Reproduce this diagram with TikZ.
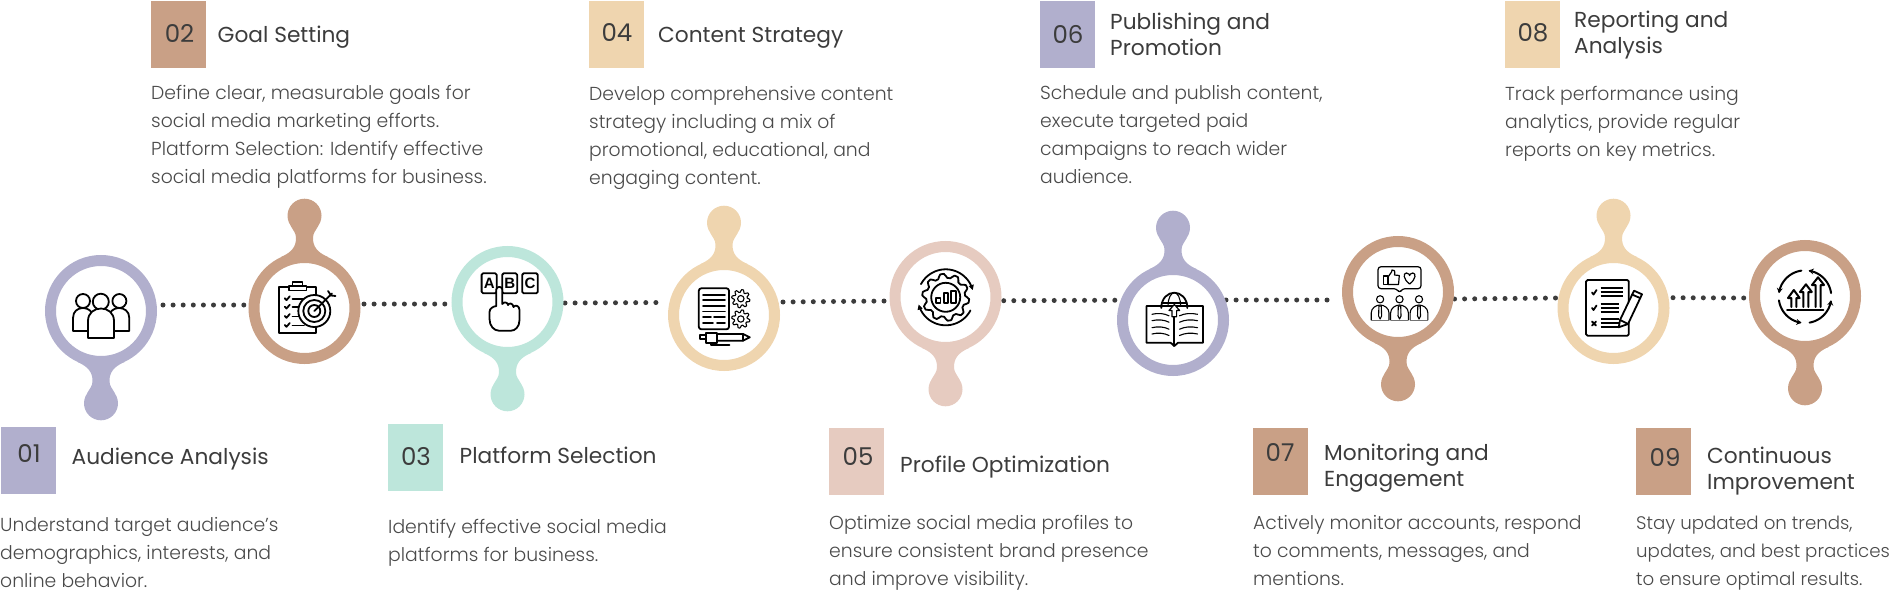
\documentclass[tikz,border=0pt]{standalone}
\usepackage{fontspec}
\setmainfont{Poppins}[UprightFont=* Light]
\newfontfamily\titlef{Poppins}
\newfontfamily\iconf{Liberation Sans}
\usetikzlibrary{arrows.meta,backgrounds}
\definecolor{cpurple}{HTML}{B1AFCD}
\definecolor{ctan}{HTML}{C9A086}
\definecolor{cmint}{HTML}{BDE6DB}
\definecolor{ccream}{HTML}{EFD5AF}
\definecolor{cpink}{HTML}{E6CBC0}
\definecolor{ctext}{HTML}{4A4A4A}
\definecolor{ctitle}{HTML}{3C3C3C}
\newcommand{\fl}{\rule{0pt}{20pt}}
\newcommand{\arcp}[5]{plot[domain=#4:#5,samples=30] ({#1+#3*cos(\x)},{#2+#3*sin(\x)})}
\newcommand{\gearp}[5]{plot[domain=0:360,samples=#5*8+1] ({#1+(#3+#4*max(-1,min(1,3*sin(#5*\x))))*cos(\x)},{#2+(#3+#4*max(-1,min(1,3*sin(#5*\x))))*sin(\x)}) -- cycle}
\tikzset{
  ringnode/.style={circle,fill=white,draw=#1,line width=11pt,minimum size=101pt,inner sep=0pt},
  pics/knob/.style={code={
    \fill[#1] (-23.5,51) .. controls (-12,56) and (-8.5,62) .. (-8.5,70)
      .. controls (-8.5,75) and (-11,77) .. (-14,82.5) -- (14,82.5)
      .. controls (11,77) and (8.5,75) .. (8.5,70)
      .. controls (8.5,62) and (12,56) .. (23.5,51) -- cycle;
    \fill[#1] (0,92.3) circle[radius=17];
  }},
  sq/.style={anchor=north west,minimum width=55pt,minimum height=67pt,inner sep=0pt,fill=#1},
  numtxt/.style={font=\titlef\fontsize{24.5}{25}\selectfont,text=ctitle,inner sep=0pt},
  titletxt/.style={anchor=north west,align=left,inner sep=0pt,text=ctitle,font=\titlef\fontsize{21.7}{26}\selectfont},
  bodytxt/.style={anchor=north west,align=left,inner sep=0pt,text=ctext,font=\fontsize{18.8}{28}\selectfont},
  dotline/.style={line width=5pt,line cap=round,dash pattern=on 0pt off 10.1pt,draw=ctitle},
  ic/.style={draw=black,line width=1.8pt,line join=round,line cap=round},
  icw/.style={ic,fill=white},
  ict/.style={ic,line width=2.2pt},
}
\begin{document}
\begin{tikzpicture}[x=1pt,y=-1pt]
\useasboundingbox (0,0) rectangle (1894,589);
% rings
\node[ringnode=cpurple] (c1) at (101,311) {};
\node[ringnode=ctan] (c2) at (304.5,308) {};
\node[ringnode=cmint] (c3) at (507.5,302) {};
\node[ringnode=ccream] (c4) at (724,315) {};
\node[ringnode=cpink] (c5) at (945.5,297) {};
\node[ringnode=cpurple] (c6) at (1173,320) {};
\node[ringnode=ctan] (c7) at (1398,292) {};
\node[ringnode=ccream] (c8) at (1613.5,308) {};
\node[ringnode=ctan] (c9) at (1805,296) {};
\pic at (c1.center) {knob=cpurple};
\pic[yscale=-1] at (c2.center) {knob=ctan};
\pic at (c3.center) {knob=cmint};
\pic[yscale=-1] at (c4.center) {knob=ccream};
\pic at (c5.center) {knob=cpink};
\pic[yscale=-1] at (c6.center) {knob=cpurple};
\pic at (c7.center) {knob=ctan};
\pic[yscale=-1] at (c8.center) {knob=ccream};
\pic at (c9.center) {knob=ctan};
% connectors
\begin{pgfonlayer}{background}
\draw[dotline] ([shift={(6,-6)}]c1.east) -- ([shift={(-3.5,-3)}]c2.west);
\draw[dotline] ([shift={(3.5,-4)}]c2.east) -- ([shift={(-6,2)}]c3.west);
\draw[dotline] ([shift={(1.5,1)}]c3.east) -- ([shift={(-3,-12.5)}]c4.west);
\draw[dotline] ([shift={(3,-13)}]c4.east) -- ([shift={(-4,4)}]c5.west);
\draw[dotline] ([shift={(2.2,3.7)}]c5.east) -- ([shift={(-1.5,-19.8)}]c6.west);
\draw[dotline] ([shift={(-3,-20)}]c6.east) -- ([shift={(-6.5,8)}]c7.west);
\draw[dotline] ([shift={(0.5,7)}]c7.east) -- ([shift={(-2,-10)}]c8.west);
\draw[dotline] ([shift={(3.5,-10.3)}]c8.east) -- ([shift={(-3.5,2)}]c9.west);
\end{pgfonlayer}
% squares and numbers
\node[sq=cpurple] (s1) at (1,427) {};   \node[numtxt] (n1) at (29,454) {01};
\node[sq=ctan] (s2) at (151,1) {};      \node[numtxt] (n2) at (179.5,33) {02};
\node[sq=cmint] (s3) at (388,424) {};   \node[numtxt] (n3) at (416,457) {03};
\node[sq=ccream] (s4) at (589,1) {};    \node[numtxt] (n4) at (617,33) {04};
\node[sq=cpink] (s5) at (829,428) {};   \node[numtxt] (n5) at (858,457) {05};
\node[sq=cpurple] (s6) at (1040,1) {};  \node[numtxt] (n6) at (1068,34) {06};
\node[sq=ctan] (s7) at (1253,428) {};   \node[numtxt] (n7) at (1280,453) {07};
\node[sq=ccream] (s8) at (1505,1) {};   \node[numtxt] (n8) at (1533,33) {08};
\node[sq=ctan] (s9) at (1636,428) {};   \node[numtxt] (n9) at (1665,457) {09};
% titles
\node[titletxt] (t1) at (71.5,444) {\fl Audience Analysis};
\node[titletxt] (t2) at (217.5,22) {\fl Goal Setting};
\node[titletxt] (t3) at (459.5,443.5) {\fl Platform Selection};
\node[titletxt] (t4) at (658,22) {\fl Content Strategy};
\node[titletxt] (t5) at (900,452.5) {\fl Profile Optimization};
\node[titletxt] (t6) at (1110,9.5) {\fl Publishing and\\Promotion};
\node[titletxt] (t7) at (1324,440) {\fl Monitoring and\\Engagement};
\node[titletxt] (t8) at (1574,7.5) {\fl Reporting and\\Analysis};
\node[titletxt] (t9) at (1707,443) {\fl Continuous\\Improvement};
% bodies
\node[bodytxt] (b1) at (0,511) {\fl Understand target audience{\char"27}s\\demographics, interests, and\\online behavior.};
\node[bodytxt] (b2) at (151,79.5) {\fl Define clear, measurable goals for\\social media marketing efforts.\\Platform Selection: Identify effective\\social media platforms for business.};
\node[bodytxt] (b3) at (388,513) {\fl Identify effective social media\\platforms for business.};
\node[bodytxt] (b4) at (589,80.5) {\fl Develop comprehensive content\\strategy including a mix of\\promotional, educational, and\\engaging content.};
\node[bodytxt] (b5) at (829,509) {\fl Optimize social media profiles to\\ensure consistent brand presence\\and improve visibility.};
\node[bodytxt] (b6) at (1040,79.5) {\fl Schedule and publish content,\\execute targeted paid\\campaigns to reach wider\\audience.};
\node[bodytxt] (b7) at (1253,509) {\fl Actively monitor accounts, respond\\to comments, messages, and\\mentions.};
\node[bodytxt] (b8) at (1505,80.5) {\fl Track performance using\\analytics, provide regular\\reports on key metrics.};
\node[bodytxt,font=\fontsize{18.2}{28}\selectfont] (b9) at (1636,509) {\fl Stay updated on trends,\\updates, and best practices\\to ensure optimal results.};
% icon 1: people
\draw[icw] (83,301) circle[radius=7];
\draw[icw] (119.4,301) circle[radius=7];
\draw[icw] (73,331) -- (73,318) .. controls (73,311) and (78,308) .. (83,308) .. controls (88,308) and (93,311) .. (93,318) -- (93,331) -- cycle;
\draw[icw] (109,331) -- (109,318) .. controls (109,311) and (114,308) .. (119,308) .. controls (124,308) and (129.3,311) .. (129.3,318) -- (129.3,331) -- cycle;
\draw[icw] (100.8,301.7) circle[radius=8];
\draw[icw] (88,338) -- (88,321) .. controls (88,313) and (94,308.5) .. (101,308.5) .. controls (108,308.5) and (114,313) .. (114,321) -- (114,338) -- cycle;
% icon 2: clipboard and target
\draw[icw] (279,286.7) rectangle (316.3,333.3);
\draw[icw] (288.6,286) rectangle (306.4,290.5);
\draw[ic] (292.5,281.7) rectangle (302.5,286);
\foreach \yy in {298.3,306.7,316,325}{
  \draw[ic] (284.8,\yy) -- (286.5,{\yy+1.8}) -- (289.8,{\yy-2});
  \draw[ic] (292.6,{\yy+0.5}) -- (304,{\yy+0.5});
}
\draw[icw] (314.3,311) circle[radius=16];
\draw[ic] (314.3,311) circle[radius=11];
\draw[ic] (314.3,311) circle[radius=6];
\draw[ic] (314.3,311) -- (332,293.5);
\draw[ic] (328,291) -- (331,295.5) -- (335.5,296);
% icon 3: letters and hand
\draw[ic,rounded corners=1.5pt] (481.6,273.3) rectangle (496.7,293.3);
\draw[ic,rounded corners=1.5pt] (502.2,273.3) rectangle (517.2,293.3);
\draw[ic,rounded corners=1.5pt] (522.2,273.3) rectangle (537.8,293.3);
\node[inner sep=0pt,font=\iconf\bfseries\fontsize{15}{15}\selectfont] (la) at (489.2,283.5) {A};
\node[inner sep=0pt,font=\iconf\bfseries\fontsize{15}{15}\selectfont] (lb) at (509.7,283.5) {B};
\node[inner sep=0pt,font=\iconf\bfseries\fontsize{15}{15}\selectfont] (lc) at (530,283.5) {C};
\draw[icw] (496.3,306) -- (496.3,289.5) .. controls (496.3,286) and (502.3,286) .. (502.3,289.5) -- (502.3,304)
  .. controls (504,301.5) and (507.5,302) .. (508,305) .. controls (509,302.5) and (513,303) .. (513.5,307) .. controls (515,304.5) and (519.5,305.5) .. (519.5,310)
  -- (519.5,320) .. controls (519.5,327) and (515,330.7) .. (511,330.7) -- (499,330.7) .. controls (494,330.7) and (489.5,326) .. (489.5,319) -- (489.5,312) .. controls (489.5,308.5) and (493,306.5) .. (496.3,306) -- cycle;
% icon 4: document, gears, pen
\draw[ic,rounded corners=2.5pt] (698.8,288.3) rectangle (729,329.3);
\foreach \yy in {295,300,306,311.5}{\draw[ic] (703,\yy) -- (725,\yy);}
\draw[ic] (703,317) -- (711,317); \draw[ic] (714,317) -- (725,317);
\draw[ic] (703,323) -- (713,323); \draw[ic] (717,323) -- (725,323);
\draw[ic,line width=1.1pt] \gearp{740.8}{298.7}{7.8}{1.3}{8};
\draw[ic,line width=1.1pt] (740.8,298.7) circle[radius=3.2];
\draw[ic,line width=1.1pt] \gearp{740.8}{319}{7.8}{1.3}{8};
\draw[ic,line width=1.1pt] (740.8,319) circle[radius=3.2];
\draw[ic] (717,334) -- (743,334) -- (749.8,337.3) -- (743,340.7) -- (717,340.7);
\draw[ic] (743,334) -- (743,340.7);
\draw[icw] (705.7,332.7) rectangle (717,343.3);
\draw[ic] (705.7,335.3) -- (699.6,335.3) -- (699.6,339.3) -- (705.7,339.3);
\draw[ic] (711,343.3) -- (711,345) -- (729.4,345);
% icon 5: gear and arrows
\draw[ic] \gearp{945.7}{297.3}{21.5}{2}{10};
\draw[ic] (945.7,297.3) circle[radius=14.5];
\draw[ic] (936.3,303.3) rectangle (940.4,298.3);
\draw[ic] (943.7,303.3) rectangle (947.8,293.3);
\draw[ic] (951,303.3) rectangle (956,290.7);
\draw[ic,-{Triangle[open,length=5pt,width=5pt]}] \arcp{945.7}{297.3}{28}{208}{345};
\draw[ic,-{Triangle[open,length=5pt,width=5pt]}] \arcp{945.7}{297.3}{28}{28}{165};
% icon 6: book and globe
\draw[ic] (1161.3,308) .. controls (1161.3,298) and (1168,292.7) .. (1174.3,292.7) .. controls (1180.6,292.7) and (1187.3,298) .. (1187.3,308);
\draw[ic,line width=1.1pt] (1168,306) .. controls (1168,298) and (1171,292.7) .. (1174.3,292.7) .. controls (1177.6,292.7) and (1180.6,298) .. (1180.6,306);
\draw[ic,line width=1.1pt] (1161.5,303) -- (1187,303);
\draw[ic] (1146.5,306) -- (1202.9,306) -- (1202.9,342.7) -- (1178,342.7) -- (1174.3,346) -- (1170.6,342.7) -- (1146.5,342.7) -- cycle;
\draw[ic] (1174.3,316.7) -- (1174.3,346);
\draw[icw,line width=1.2pt] (1172,316.7) -- (1172,310.5) -- (1169,310.5) -- (1174.3,304.5) -- (1179.6,310.5) -- (1176.6,310.5) -- (1176.6,316.7) -- cycle;
\foreach \yy in {314.3,320.7,327.7,334}{
  \draw[ic,line width=1.1pt] (1152,\yy) .. controls (1158,{\yy-1.5}) and (1164,{\yy-1}) .. (1169,{\yy+1.5});
  \draw[ic,line width=1.1pt] (1179.5,{\yy+1.5}) .. controls (1185,{\yy-1}) and (1191,{\yy-1.5}) .. (1197.5,\yy);
}
% icon 7: feedback and people
\draw[ic,line width=1.2pt,rounded corners=3pt] (1378,266.7) -- (1421,266.7) -- (1421,288.7) -- (1402,288.7) -- (1399.5,293.3) -- (1397,288.7) -- (1378,288.7) -- cycle;
\draw[ic,line width=1.2pt] (1383.3,276) rectangle (1388,284.5);
\draw[ic,line width=1.2pt] (1388,277) -- (1391.5,272) -- (1392,270) .. controls (1394,269) and (1395.5,271) .. (1394.5,275) -- (1399.3,275.5) -- (1398.5,284.5) -- (1388,284.5);
\draw[ic,line width=1.2pt] (1409.6,284) .. controls (1403,279) and (1403,273) .. (1406.5,273) .. controls (1408.5,273) and (1409.6,275) .. (1409.6,275.5) .. controls (1409.6,275) and (1410.7,273) .. (1412.7,273) .. controls (1416.2,273) and (1416.2,279) .. (1409.6,284) -- cycle;
\foreach \px in {1380.1,1399.5,1419}{
  \begin{scope}[shift={(\px,0)}]
  \draw[ic,line width=1.1pt] (0,299.3) circle[radius=3.6];
  \draw[ic,line width=1.1pt] (-8.9,320) -- (-8.9,313) .. controls (-8.9,308) and (-4,305) .. (0,305) .. controls (4,305) and (8.9,308) .. (8.9,313) -- (8.9,320);
  \draw[ic,line width=1.1pt] (-1.2,306) -- (1.2,306) -- (1.5,316) -- (0,319) -- (-1.5,316) -- cycle;
  \draw[draw=black!55,line width=1.6pt] (-8.9,320.3) -- (8.9,320.3);
  \end{scope}
}
% icon 8: checklist and pencil
\draw[ic,rounded corners=1.5pt] (1586,280) rectangle (1628.8,335.7);
\draw[ict,line width=1.8pt] (1592,292.5) -- (1593.5,294.5) -- (1596.5,290);
\draw[ict,line width=1.8pt] (1592,308) -- (1593.5,310) -- (1596.5,305.5);
\draw[ict,line width=1.8pt] (1592,321.5) -- (1596,325.5); \draw[ict,line width=1.8pt] (1596,321.5) -- (1592,325.5);
\foreach \yy in {288.3,292.3,296,304,308.3,311.7,319.3,323.3,327.3}{\draw[ic,line width=1.9pt,line cap=butt] (1600.5,\yy) -- (1619,\yy);}
\foreach \yy in {288.3,292.3,296}{\draw[ic,line width=1.9pt,line cap=butt] (1619,\yy) -- (1623,\yy);}
\draw[icw] (1634,290.7) -- (1642,294.3) -- (1628,324) -- (1618.7,327.3) -- (1620,320) -- cycle;
\draw[ic] (1632,294.5) -- (1640,298);
\draw[ic] (1620,320) -- (1628,324);
% icon 9: growth arrows in cycle
\foreach \aa/\bb in {80/8,352/278,262/188,172/98}{
  \draw[ic,line width=2pt,-{Stealth[open,length=5pt,width=6pt]}] \arcp{1805}{296.7}{26.3}{\aa}{\bb};
}
\draw[ic,line width=2pt] (1787,309.5) -- (1823.3,309.5);
\draw[ic,line width=2pt] (1791.3,307) -- (1791.3,298) -- (1788,298) -- (1793.8,290) -- (1799.6,298) -- (1796.3,298) -- (1796.3,307);
\draw[ic,line width=2pt] (1803.4,307) -- (1803.4,292) -- (1800,292) -- (1805.9,284.3) -- (1811.8,292) -- (1808.4,292) -- (1808.4,307);
\draw[ic,line width=2pt] (1815.5,307) -- (1815.5,285) -- (1812,285) -- (1818,277.3) -- (1824,285) -- (1820.5,285) -- (1820.5,307);
\end{tikzpicture}
\end{document}
